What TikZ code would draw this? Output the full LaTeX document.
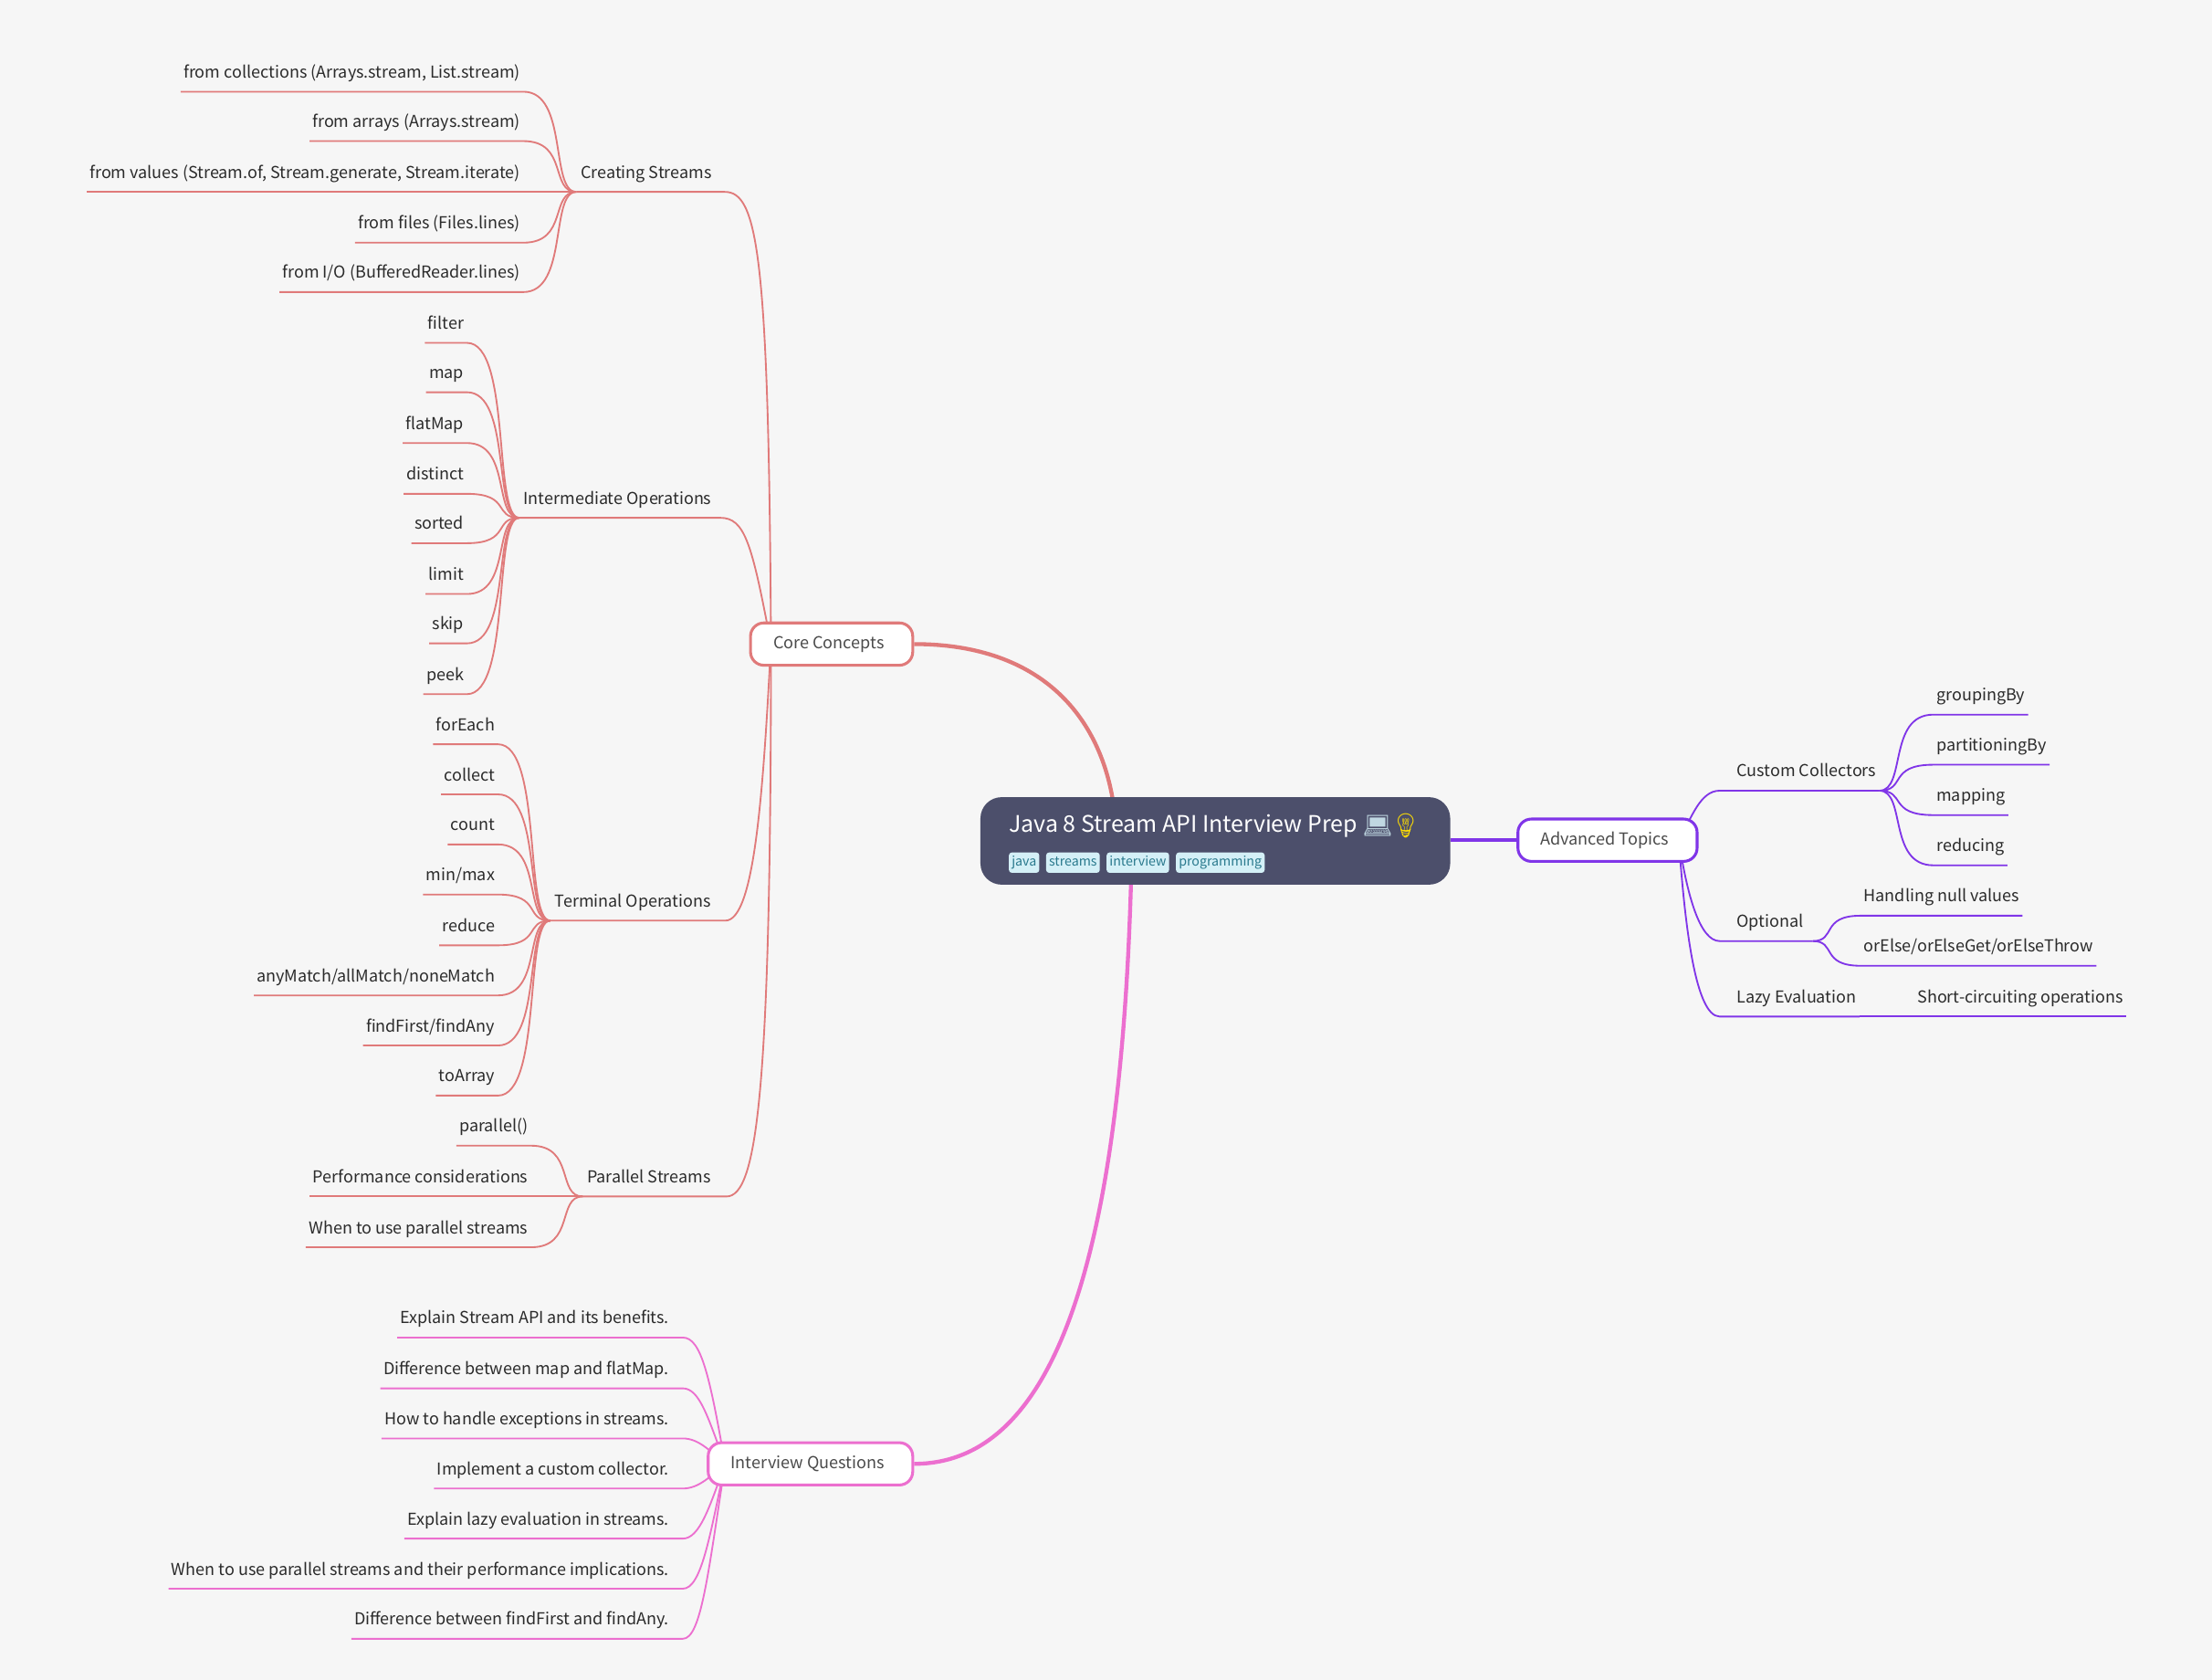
\documentclass[tikz,border=0pt]{standalone}
\usepackage{fontspec}
\setmainfont{Noto Sans CJK SC}
\newfontfamily\emojifont{Noto Emoji}
\usetikzlibrary{positioning,calc,backgrounds}
\definecolor{pagebg}{HTML}{F6F6F6}
\definecolor{rootfill}{HTML}{4C4F6B}
\definecolor{corered}{HTML}{E07A7A}
\definecolor{askpink}{HTML}{EC6FCF}
\definecolor{advpurple}{HTML}{8035E8}
\definecolor{tagfill}{HTML}{D4F0F7}
\definecolor{tagtext}{HTML}{2A7A8E}
\definecolor{inktext}{HTML}{2B2B2B}
\begin{document}
\begin{tikzpicture}[x=1pt,y=-1pt,
textnode/.style={font=\fontsize{11.65}{12}\selectfont, text=inktext, inner xsep=2pt, inner ysep=0pt, text height=10pt, text depth=9.5pt},
leaf/.style={textnode, anchor=south east},
rleaf/.style={textnode, anchor=south west},
subtopic/.style={textnode, anchor=south west, inner xsep=3pt},
topic/.style={rounded corners=9.5pt, draw=#1, fill=white, line width=2pt, font=\fontsize{11.7}{12}\selectfont, text=inktext!85, inner sep=0pt, minimum height=30pt, execute at end node={\hspace{4pt}}},
tag/.style={rounded corners=2pt, fill=tagfill, text=tagtext, font=\fontsize{9.2}{10}\selectfont, inner xsep=2pt, inner ysep=1.7pt, text height=8pt, text depth=3pt},
wire/.style={to path={let \p1=(\tikztostart),\p2=(\tikztotarget),\n1={\x2-\x1} in .. controls (\x1+0.85*\n1,\y1) and (\x1+0.5*\n1,\y2) .. (\p2)}},
rwire/.style={to path={let \p1=(\tikztostart),\p2=(\tikztotarget),\n1={\x2-\x1} in .. controls (\x1+0.5*\n1,\y1) and (\x1+0.15*\n1,\y2) .. (\p2)}},
redline/.style={draw=corered, line width=1.2pt},
pinkline/.style={draw=askpink, line width=1.2pt},
purpleline/.style={draw=advpurple, line width=1.2pt}
]
\useasboundingbox (0,0) rectangle (1568,1190.7);

% centre
\node[rounded corners=15pt, fill=rootfill, minimum width=333pt, minimum height=62pt, inner sep=0pt](root) at (861.5,596){};
\node[anchor=base west, inner sep=0pt, text=white, font=\fontsize{16.15}{17}\selectfont](title) at (715,590){Java 8 Stream API Interview Prep};
\node[anchor=base west, inner sep=0pt, text=tagfill!85!rootfill, font=\emojifont\fontsize{17}{17}\selectfont](laptop) at (965.5,591){\symbol{"1F4BB}};
\node[anchor=base west, inner sep=0pt, text=yellow!80!orange, font=\emojifont\fontsize{17}{17}\selectfont](bulb) at (985.5,591){\symbol{"1F4A1}};
\node[tag, anchor=north west](java) at (715,604){java};
\node[tag, right=4.5pt of java](streams){streams};
\node[tag, right=4.5pt of streams](interview){interview};
\node[tag, right=4.5pt of interview](programming){programming};

% main branches
\node[topic=corered, minimum width=115pt](core) at (589.5,456.5){Core Concepts};
\node[topic=askpink, minimum width=145pt](questions) at (574.5,1037.5){Interview Questions};
\node[topic=advpurple, minimum width=127pt](advanced) at (1139.5,595.5){Advanced Topics};
\coordinate (corehub) at (546.5,456.5);
\coordinate (askhub) at (514,1037.5);
\coordinate (advhub) at (1190,595.5);

% core concepts, second level
\node[subtopic](creating) at (408.5,136){Creating Streams};
\node[subtopic](intermediate) at (368,367){Intermediate Operations};
\node[subtopic](terminal) at (390,652.5){Terminal Operations};
\node[subtopic](parallel) at (413,848){Parallel Streams};

\node[leaf](c1) at (371,65){from collections (Arrays.stream, List.stream)};
\node[leaf](c2) at (371,100){from arrays (Arrays.stream)};
\node[leaf](c3) at (371,136){from values (Stream.of, Stream.generate, Stream.iterate)};
\node[leaf](c4) at (371,172){from files (Files.lines)};
\node[leaf](c5) at (371,207){from I/O (BufferedReader.lines)};

\node[leaf](i1) at (331,243){filter};
\node[leaf](i2) at (331,278){map};
\node[leaf](i3) at (331,314){flatMap};
\node[leaf](i4) at (331,350){distinct};
\node[leaf](i5) at (331,385){sorted};
\node[leaf](i6) at (331,421){limit};
\node[leaf](i7) at (331,456){skip};
\node[leaf](i8) at (331,492){peek};

\node[leaf](t1) at (353,527.5){forEach};
\node[leaf](t2) at (353,563){collect};
\node[leaf](t3) at (353,598.5){count};
\node[leaf](t4) at (353,634){min/max};
\node[leaf](t5) at (353,670){reduce};
\node[leaf](t6) at (353,705.5){anyMatch/allMatch/noneMatch};
\node[leaf](t7) at (353,741){findFirst/findAny};
\node[leaf](t8) at (353,776.5){toArray};

\node[leaf](p1) at (376.5,812){parallel()};
\node[leaf](p2) at (376.5,848){Performance considerations};
\node[leaf](p3) at (376.5,884){When to use parallel streams};

% interview questions
\node[leaf](q1) at (476.5,948){Explain Stream API and its benefits.};
\node[leaf](q2) at (476.5,984){Difference between map and flatMap.};
\node[leaf](q3) at (476.5,1019.5){How to handle exceptions in streams.};
\node[leaf](q4) at (476.5,1055){Implement a custom collector.};
\node[leaf](q5) at (476.5,1090.5){Explain lazy evaluation in streams.};
\node[leaf](q6) at (476.5,1126){When to use parallel streams and their performance implications.};
\node[leaf](q7) at (476.5,1161.5){Difference between findFirst and findAny.};

% advanced topics
\node[rleaf](collectors) at (1229,560.4){Custom Collectors};
\node[rleaf](optional) at (1229,667){Optional};
\node[rleaf](lazy) at (1229,720.5){Lazy Evaluation};
\node[rleaf](a1) at (1370.5,506.5){groupingBy};
\node[rleaf](a2) at (1370.5,542){partitioningBy};
\node[rleaf](a3) at (1370.5,577.7){mapping};
\node[rleaf](a4) at (1370.5,613.3){reducing};
\node[rleaf](o1) at (1319,649){Handling null values};
\node[rleaf](o2) at (1319,684.5){orElse/orElseGet/orElseThrow};
\node[rleaf](s1) at (1357,720.5){Short-circuiting operations};
\coordinate (optjoint) at (1285,667);

\begin{scope}[on background layer]
\fill[pagebg] (0,0) rectangle (1568,1190.7);
% thick branches
\draw[draw=corered, line width=2.8pt] (core.east) .. controls (740,456.5) and (782,510) .. (790,575);
\draw[draw=askpink, line width=2.8pt] (questions.east) .. controls (745,1037.5) and (795,900) .. (802,615);
\draw[draw=advpurple, line width=2.8pt] (root.east |- advanced) -- (advanced.west);

\draw[redline] (creating.south west) -- (creating.south east) -- +(6,0) .. controls (537,136) and (545,180) .. (corehub);
\draw[redline] (intermediate.south west) -- (intermediate.south east) -- +(3,0) .. controls (528,367) and (533,385) .. (corehub);
\draw[redline] (terminal.south west) -- (terminal.south east) -- +(7,0) .. controls (535,652.5) and (541,560) .. (corehub);
\draw[redline] (parallel.south west) -- (parallel.south east) -- +(8,0) .. controls (537,848) and (546.5,770) .. (corehub);

\draw[redline] (c1.south west) -- (c1.south east) to[wire] (creating.south west);
\draw[redline] (c2.south west) -- (c2.south east) to[wire] (creating.south west);
\draw[redline] (c3.south west) -- (c3.south east) to[wire] (creating.south west);
\draw[redline] (c4.south west) -- (c4.south east) to[wire] (creating.south west);
\draw[redline] (c5.south west) -- (c5.south east) to[wire] (creating.south west);
\draw[redline] (i1.south west) -- (i1.south east) to[wire] (intermediate.south west);
\draw[redline] (i2.south west) -- (i2.south east) to[wire] (intermediate.south west);
\draw[redline] (i3.south west) -- (i3.south east) to[wire] (intermediate.south west);
\draw[redline] (i4.south west) -- (i4.south east) to[wire] (intermediate.south west);
\draw[redline] (i5.south west) -- (i5.south east) to[wire] (intermediate.south west);
\draw[redline] (i6.south west) -- (i6.south east) to[wire] (intermediate.south west);
\draw[redline] (i7.south west) -- (i7.south east) to[wire] (intermediate.south west);
\draw[redline] (i8.south west) -- (i8.south east) to[wire] (intermediate.south west);
\draw[redline] (t1.south west) -- (t1.south east) to[wire] (terminal.south west);
\draw[redline] (t2.south west) -- (t2.south east) to[wire] (terminal.south west);
\draw[redline] (t3.south west) -- (t3.south east) to[wire] (terminal.south west);
\draw[redline] (t4.south west) -- (t4.south east) to[wire] (terminal.south west);
\draw[redline] (t5.south west) -- (t5.south east) to[wire] (terminal.south west);
\draw[redline] (t6.south west) -- (t6.south east) to[wire] (terminal.south west);
\draw[redline] (t7.south west) -- (t7.south east) to[wire] (terminal.south west);
\draw[redline] (t8.south west) -- (t8.south east) to[wire] (terminal.south west);
\draw[redline] (p1.south west) -- (p1.south east) to[wire] (parallel.south west);
\draw[redline] (p2.south west) -- (p2.south east) to[wire] (parallel.south west);
\draw[redline] (p3.south west) -- (p3.south east) to[wire] (parallel.south west);

\draw[pinkline] (q1.south west) -- (q1.south east) -- +(7.5,0) .. controls (497,948) and (503,975) .. (askhub);
\draw[pinkline] (q2.south west) -- (q2.south east) -- +(7.5,0) .. controls (496,984) and (502,1005) .. (askhub);
\draw[pinkline] (q3.south west) -- (q3.south east) -- +(7.5,0) .. controls (495,1019.5) and (503,1028) .. (askhub);
\draw[pinkline] (q4.south west) -- (q4.south east) -- +(7.5,0) .. controls (495,1055) and (503,1047) .. (askhub);
\draw[pinkline] (q5.south west) -- (q5.south east) -- +(7.5,0) .. controls (496,1090.5) and (503,1068) .. (askhub);
\draw[pinkline] (q6.south west) -- (q6.south east) -- +(7.5,0) .. controls (497,1126) and (503,1090) .. (askhub);
\draw[pinkline] (q7.south west) -- (q7.south east) -- +(7.5,0) .. controls (497,1161.5) and (502,1115) .. (askhub);

\draw[purpleline] (advhub) .. controls (1199,580) and (1205,560.4) .. (1219,560.4) -- (collectors.south east);
\draw[purpleline] (advhub) .. controls (1196,635) and (1205,667) .. (1219,667) -- (optjoint);
\draw[purpleline] (advhub) .. controls (1194,650) and (1201,720.5) .. (1219,720.5) -- (lazy.south east);
\draw[purpleline] (collectors.south east) to[rwire] (a1.south west) -- (a1.south east);
\draw[purpleline] (collectors.south east) to[rwire] (a2.south west) -- (a2.south east);
\draw[purpleline] (collectors.south east) to[rwire] (a3.south west) -- (a3.south east);
\draw[purpleline] (collectors.south east) to[rwire] (a4.south west) -- (a4.south east);
\draw[purpleline] (optjoint) to[rwire] (o1.south west) -- (o1.south east);
\draw[purpleline] (optjoint) to[rwire] (o2.south west) -- (o2.south east);
\draw[purpleline] (lazy.south east) -- (s1.south west) -- (s1.south east);
\end{scope}
\end{tikzpicture}
\end{document}
